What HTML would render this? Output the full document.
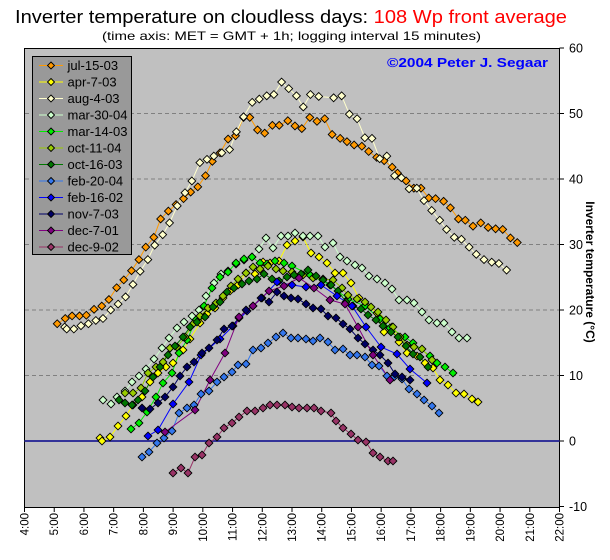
<!DOCTYPE html>
<html><head><meta charset="utf-8"><style>
html,body{margin:0;padding:0;background:#fff;width:610px;height:560px;overflow:hidden}
svg{display:block}
text{font-family:"Liberation Sans",sans-serif}
</style></head><body>
<svg id="s" width="610" height="560" xmlns="http://www.w3.org/2000/svg">
<text x="15" y="23" font-size="18" textLength="552" lengthAdjust="spacingAndGlyphs" fill="#000">Inverter temperature on cloudless days: <tspan fill="#ff0000">108 Wp front average</tspan></text>
<text x="102" y="40" font-size="12" textLength="379" lengthAdjust="spacingAndGlyphs">(time axis: MET = GMT + 1h; logging interval 15 minutes)</text>
<rect x="24.5" y="48.5" width="535" height="459" fill="#c0c0c0" stroke="#000" stroke-width="1"/>
<g id="grid"></g>
<text x="387" y="67" font-size="13" font-weight="bold" fill="#0000ff" textLength="161" lengthAdjust="spacingAndGlyphs">©2004 Peter J. Segaar</text>
<line x1="24.5" y1="441" x2="559.5" y2="441" stroke="#333399" stroke-width="2"/>
<g id="series"></g>
<g id="legend"></g>
<text transform="translate(586,272) rotate(90)" text-anchor="middle" font-size="12" font-weight="bold">Inverter temperature (°C)</text>
</svg>
<script>
var NS="http://www.w3.org/2000/svg",s=document.getElementById('s');
function el(t,a,p){var e=document.createElementNS(NS,t);for(var k in a)e.setAttribute(k,a[k]);(p||s).appendChild(e);return e;}
var g=document.getElementById('grid');
function X(h){return 24.5+(h-4)*535/18;}function Y(t){return 441-t*6.55;}
for(var t=-10;t<=60;t+=10){var y=Y(t);
 if(t>0&&t<60)el('line',{x1:25,y1:y,x2:559,y2:y,stroke:'#808080','stroke-dasharray':'4,3','stroke-width':1},g);
 el('line',{x1:559.5,y1:y,x2:564,y2:y,stroke:'#000'},g);
 var tx=el('text',{x:569,y:y+4.5,'font-size':12.5},g);tx.textContent=t;}
for(var h=4;h<=22;h++){var x=X(h);el('line',{x1:x,y1:507.5,x2:x,y2:512,stroke:'#000'},g);
 var tx=el('text',{transform:'translate('+(x+4)+',513) rotate(-90)','text-anchor':'end','font-size':11.5,'font-family':'Liberation Mono, monospace'},g);tx.textContent=h+':00';}
function ht(a){var r=[];for(var i=0;i<a.length;i+=2)r.push(X(a[i]),Y(a[i+1]));return r;}
var S=[
['jul-15-03','#ff9900',ht([5.1,17.9,5.37,18.7,5.6,19.1,5.85,19.1,6.08,19.2,6.34,20.1,6.6,20.6,6.84,21.6,7.1,23.4,7.34,24.6,7.6,26,7.85,27.7,8.08,29.6,8.35,31.1,8.58,33.9,8.84,35.1,9.1,36.1,9.35,37,9.59,38,9.83,38.8,10.09,40.5,10.32,42.7,10.58,44,10.85,46.1,11.1,46.6,11.37,49.4,11.58,49.4,11.84,47.5,12.08,47,12.34,48.2,12.57,48.2,12.86,48.9,13.1,48.1,13.33,47.7,13.6,49.4,13.84,48.8,14.1,49.2,14.35,46.8,14.62,46.2,14.85,45.7,15.09,45.2,15.35,45,15.58,44.2,15.85,43.3,16.1,42.8,16.37,41.8,16.55,40.9,16.84,39.7,17.1,38.6,17.34,38.6,17.6,37.1,17.83,37,18.1,36.6,18.33,35.6,18.6,33.9,18.83,33.7,19.09,32.8,19.35,33.3,19.6,32.6,19.85,32.4,20.09,32.3,20.35,31,20.58,30.3])],
['apr-7-03','#ffff00',[100,438,102,441,110,437,118,426,126,416,133,405,142,397,150,382,158,373,166,367,173,363,183,350,190,339,200,323,207,314,215,308,223,298,230,291,238,285,246,273,255,274,263,262,270,263,279,261,287,245,295,241,303,237,311,253,319,257,327,263,335,273,343,273,351,283,359,298,366,305,377,313,384,332,392,327,399,342,407,353,417,356,425,363,433,368,440,380,448,385,456,393,464,394,472,399,478,402]],
['aug-4-03','#ffffcc',ht([5.35,17.4,5.42,17.1,5.66,17.1,5.9,17.6,6.15,17.9,6.4,18.4,6.64,18.7,6.9,20,7.15,20.9,7.4,22,7.65,23.9,7.89,25.9,8.15,27.7,8.38,29.9,8.65,31.5,8.88,33.3,9.14,35.9,9.4,37.9,9.63,39.7,9.9,42.5,10.14,43,10.37,43.5,10.64,44,10.9,44.5,11.13,47.2,11.37,49.5,11.66,51.7,11.9,52.2,12.15,52.7,12.39,52.9,12.65,54.8,12.89,53.8,13.15,52.7,13.38,51,13.62,52.9,13.9,52.6,14.4,52.4,14.67,52.7,14.93,49.9,15.19,49.2,15.45,46.3,15.69,46.2,15.95,43.1,16.19,43.5,16.45,40.5,16.68,40.2,16.94,38.5,17.2,38.6,17.44,36.7,17.7,35.2,17.97,33.7,18.2,32.3,18.46,31.1,18.7,30.8,18.96,29.6,19.2,28.5,19.46,27.7,19.72,27.3,19.96,27.1,20.22,26.1])],
['mar-30-04','#ccffcc',[103,400,111,404,117,397,125,391,132,382,139,376,146,369,154,359,162,348,169,338,177,328,184,322,192,316,199,310,206,296,214,283,221,274,228,271,236,264,244,260,252,257,259,249,266,238,273,248,281,236,288,236,295,233,303,236,310,236,318,236,325,247,333,243,340,257,347,261,355,265,362,268,369,276,377,279,385,283,392,289,399,300,407,300,414,303,422,312,429,320,437,323,444,323,452,332,459,338,467,338]],
['mar-14-03','#00ee00',[131,429,139,423,147,412,156,397,163,383,172,373,179,353,187,340,196,320,204,306,212,288,220,277,228,272,236,263,244,259,252,257,260,263,267,264,275,261,284,263,292,266,310,275,330,285,348,299,365,306,380,319,390,328,405,337,413,343,430,356,437,363,445,367,453,373]],
['oct-11-04','#99cc00',[125,393,133,393,141,388,148,373,156,367,163,362,170,348,177,347,185,337,193,324,200,316,208,308,216,303,223,296,231,286,238,279,246,273,253,267,260,269,268,266,276,269,283,271,292,272,303,275,313,278,323,279,333,280,342,288,348,295,357,299,365,302,371,307,378,312,386,320,393,327,400,337,407,345,414,347,422,349,432,360]],
['oct-16-03','#007700',[119,400,125,403,132,405,138,400,145,391,153,377,160,367,168,355,175,346,183,337,190,327,197,322,205,317,213,307,220,302,227,292,234,288,242,284,249,281,257,279,264,274,272,279,279,281,287,277,294,275,301,274,308,270,316,276,323,280,331,285,338,291,346,302,353,306,361,309,368,315,376,320,383,326,391,332,398,337,406,346,413,354,420,357,428,367]],
['feb-20-04','#3377ee',[142,457,149,452,157,443,164,438,172,431,179,413,187,408,194,405,201,394,209,391,217,382,224,377,232,372,238,365,246,364,253,350,261,348,268,343,276,337,283,333,291,338,298,338,306,339,313,341,320,338,328,342,335,350,343,349,350,355,357,355,365,357,372,365,379,366,387,376,394,377,402,379,409,389,417,394,424,400,432,406,439,413]],
['feb-16-02','#0000ff',[148,436,158,430,173,404,189,382,201,355,220,339,233,326,247,311,262,298,277,282,292,285,306,287,321,285,337,296,352,306,366,327,381,347,397,354,410,369,427,383]],
['nov-7-03','#000066',[142,408,150,409,158,403,165,397,173,387,180,376,187,367,194,362,202,353,209,348,217,340,224,329,232,326,239,318,246,310,253,306,261,298,269,302,277,292,284,296,291,298,298,299,306,304,313,308,321,309,328,316,336,318,343,324,350,329,358,338,365,344,373,350,380,355,388,363,395,374,402,377,410,380]],
['dec-7-01','#800080',[165,432,195,410,210,380,225,353,239,317,253,306,269,291,284,286,299,278,314,288,330,300,345,304,358,327,373,355,390,380]],
['dec-9-02','#993366',[173,473,181,468,188,473,195,457,202,455,209,443,217,437,224,428,232,423,239,417,247,411,255,411,263,408,270,405,277,405,285,405,292,407,299,408,307,408,314,408,321,411,331,413,336,421,343,428,351,434,358,440,366,442,373,453,380,457,388,461,393,461]]
];
var sg=document.getElementById('series');
function dia(x,y,c,p,r){r=r||3.9;el('path',{d:'M'+x+' '+(y-r)+'L'+(x+r)+' '+y+'L'+x+' '+(y+r)+'L'+(x-r)+' '+y+'Z',fill:c,stroke:'#000','stroke-width':0.9},p);}
S.forEach(function(d){var p=d[2],pts='';for(var i=0;i<p.length;i+=2)pts+=p[i]+','+p[i+1]+' ';
 el('polyline',{points:pts,fill:'none',stroke:d[1],'stroke-width':1},sg);});
S.forEach(function(d){var p=d[2];for(var i=0;i<p.length;i+=2)dia(p[i],p[i+1],d[1],sg);});
var lg=document.getElementById('legend');
el('rect',{x:32.5,y:56.5,width:99,height:198,fill:'#999999',stroke:'#000','stroke-width':1},lg);
S.forEach(function(d,i){var y=65.5+i*16.5;el('line',{x1:39,y1:y,x2:63,y2:y,stroke:d[1],'stroke-width':1},lg);dia(51,y,d[1],lg,3.5);
 var tx=el('text',{x:67.5,y:y+4.7,'font-size':13},lg);tx.textContent=d[0];});
</script>
</body></html>
